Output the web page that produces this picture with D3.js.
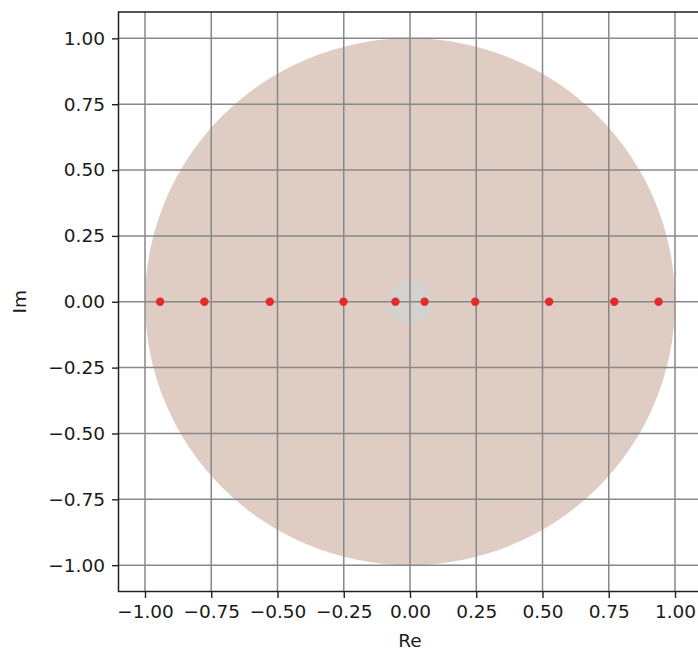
<!DOCTYPE html>
<meta charset="utf-8">
<style>
body { margin: 0; background: #fff; }
text { font-family: "DejaVu Sans", sans-serif; }
</style>
<body>
<svg width="698" height="653"></svg>
<script src="https://cdn.jsdelivr.net/npm/d3@7"></script>
<script>
// zeros on the real axis
var zerosRe = [-0.943, -0.776, -0.529, -0.251, -0.055, 0.055, 0.246, 0.525, 0.771, 0.938];
var zerosIm = [0, 0, 0, 0, 0, 0, 0, 0, 0, 0];
var ticks = [-1.0, -0.75, -0.5, -0.25, 0.0, 0.25, 0.5, 0.75, 1.0];
var unitRadius = 1.0;
var innerRadius = 0.083;

var svg = d3.select("svg");

var x = d3.scaleLinear().domain([-1.1, 1.1]).range([118.5, 701.5]);
var y = d3.scaleLinear().domain([-1.1, 1.1]).range([591.5, 12]);

var g = svg.append("g");

// unit disc
g.append("ellipse")
    .attr("cx", x(0)).attr("cy", y(0))
    .attr("rx", x(unitRadius) - x(0))
    .attr("ry", y(0) - y(unitRadius))
    .attr("fill", "#dfcdc3");

// small disc at origin
g.append("ellipse")
    .attr("cx", x(0)).attr("cy", y(0))
    .attr("rx", x(innerRadius) - x(0))
    .attr("ry", y(0) - y(innerRadius))
    .attr("fill", "#d3d2cf");

// grid
g.selectAll(".vgrid").data(ticks).enter().append("line")
    .attr("x1", function(d) { return x(d); }).attr("x2", function(d) { return x(d); })
    .attr("y1", y(1.1)).attr("y2", y(-1.1))
    .attr("stroke", "#888").attr("stroke-width", 1.5);
g.selectAll(".hgrid").data(ticks).enter().append("line")
    .attr("y1", function(d) { return y(d); }).attr("y2", function(d) { return y(d); })
    .attr("x1", x(-1.1)).attr("x2", x(1.1))
    .attr("stroke", "#888").attr("stroke-width", 1.5);

// zeros
g.selectAll(".pt").data(zerosRe).enter().append("circle")
    .attr("cx", function(d) { return x(d); })
    .attr("cy", function(d, i) { return y(zerosIm[i]); })
    .attr("r", 4.2)
    .attr("fill", "#e32b2b");

// axes
var fmt = function(d) { return d3.format(".2f")(d).replace("-", "\u2212"); };

var xAxis = svg.append("g")
    .attr("transform", "translate(0," + y(-1.1) + ")")
    .call(d3.axisBottom(x).tickValues(ticks).tickFormat(fmt).tickSize(6.5).tickPadding(7));
var yAxis = svg.append("g")
    .attr("transform", "translate(" + x(-1.1) + ",0)")
    .call(d3.axisLeft(y).tickValues(ticks).tickFormat(fmt).tickSize(6.5).tickPadding(7));

[xAxis, yAxis].forEach(function(a) {
  a.select(".domain").remove();
  a.selectAll(".tick line").attr("stroke", "#222").attr("stroke-width", 1.4);
  a.selectAll(".tick text").attr("fill", "#1a1a1a").style("font-size", "18.5px")
    .style("font-family", "'DejaVu Sans', sans-serif");
});

// frame
svg.append("rect")
    .attr("x", x(-1.1)).attr("y", y(1.1))
    .attr("width", x(1.1) - x(-1.1)).attr("height", y(-1.1) - y(1.1))
    .attr("fill", "none").attr("stroke", "#222").attr("stroke-width", 1.5);

svg.append("text")
    .attr("x", x(0)).attr("y", 647)
    .attr("text-anchor", "middle")
    .attr("font-size", "18.5px").attr("fill", "#1a1a1a")
    .text("Re");

svg.append("text")
    .attr("transform", "translate(26," + y(0) + ") rotate(-90)")
    .attr("text-anchor", "middle")
    .attr("font-size", "18.5px").attr("fill", "#1a1a1a")
    .text("Im");
</script>
</body>
